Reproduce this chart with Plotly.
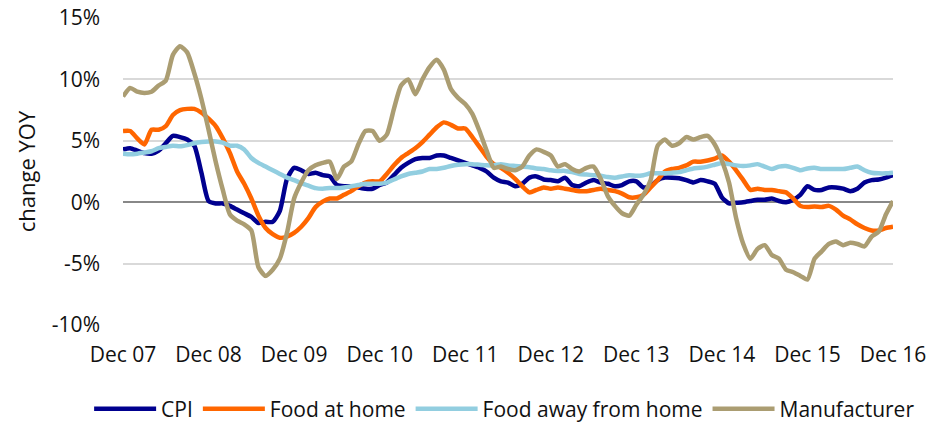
import plotly.graph_objects as go

# Monthly index: 0 = Dec 07 ... 108 = Dec 16
months = list(range(109))

tick_vals = [0, 12, 24, 36, 48, 60, 72, 84, 96, 108]
tick_text = ["Dec 07", "Dec 08", "Dec 09", "Dec 10", "Dec 11",
             "Dec 12", "Dec 13", "Dec 14", "Dec 15", "Dec 16"]

y_tick_vals = [-0.10, -0.05, 0.0, 0.05, 0.10, 0.15]
y_tick_text = ["-10%", "-5%", "0%", "5%", "10%", "15%"]

cpi = [4.3, 4.4, 4.2, 4.0, 3.95, 4.2, 4.8, 5.4, 5.3, 5.1, 4.6, 2.4, 0.1, -0.1, -0.1, -0.3, -0.6, -0.9, -1.2, -1.7,
       -1.6, -1.6, -0.7, 1.9, 2.8, 2.6, 2.3, 2.4, 2.2, 2.1, 1.4, 1.3, 1.3, 1.2, 1.1, 1.1, 1.4, 1.6, 2.2, 2.8,
       3.2, 3.5, 3.6, 3.6, 3.8, 3.8, 3.6, 3.4, 3.2, 3.0, 2.8, 2.5, 2.0, 1.7, 1.6, 1.3, 1.5, 2.0, 2.1, 1.85,
       1.8, 1.7, 2.0, 1.4, 1.3, 1.6, 1.8, 1.6, 1.5, 1.3, 1.4, 1.7, 1.7, 1.2, 1.3, 1.8, 2.0, 2.0, 1.95, 1.8,
       1.6, 1.8, 1.7, 1.5, 0.4, -0.1, -0.05, 0.0, 0.1, 0.2, 0.2, 0.3, 0.1, 0.0, 0.2, 0.6, 1.3, 1.0, 1.0, 1.2,
       1.2, 1.1, 0.9, 1.1, 1.6, 1.8, 1.85, 2.0, 2.2]

food_home = [5.8, 5.8, 5.2, 4.7, 5.9, 5.9, 6.2, 7.1, 7.5, 7.6, 7.6, 7.3, 6.8, 6.2, 5.2, 4.0, 2.5, 1.5, 0.3, -1.1,
             -2.1, -2.6, -2.9, -2.8, -2.5, -2.0, -1.3, -0.4, 0.05, 0.3, 0.3, 0.6, 0.9, 1.3, 1.6, 1.7, 1.7, 2.3, 3.0, 3.6,
             4.0, 4.4, 4.9, 5.5, 6.1, 6.5, 6.3, 6.0, 6.0, 5.3, 4.5, 3.7, 3.1, 2.8, 2.4, 1.9, 1.3, 0.8, 1.0, 1.2,
             1.1, 1.2, 1.1, 1.0, 0.9, 0.9, 1.0, 1.1, 1.0, 0.9, 0.7, 0.4, 0.4, 0.6, 1.2, 1.8, 2.5, 2.7, 2.8, 3.0,
             3.3, 3.3, 3.4, 3.55, 3.8, 3.3, 2.6, 1.8, 1.0, 1.1, 1.0, 1.0, 0.9, 0.8, 0.3, -0.3, -0.4, -0.35, -0.4, -0.3,
             -0.6, -1.1, -1.4, -1.8, -2.1, -2.3, -2.3, -2.1, -2.0]

food_away = [3.95, 3.9, 3.95, 4.05, 4.15, 4.4, 4.5, 4.6, 4.55, 4.65, 4.8, 4.9, 4.95, 4.95, 4.85, 4.6, 4.6, 4.3, 3.6, 3.2,
             2.9, 2.6, 2.3, 2.0, 1.8, 1.55, 1.35, 1.15, 1.1, 1.15, 1.15, 1.2, 1.3, 1.4, 1.5, 1.5, 1.5, 1.6, 1.85, 2.1,
             2.3, 2.4, 2.5, 2.7, 2.7, 2.8, 2.95, 3.05, 3.1, 3.1, 3.05, 3.0, 3.0, 3.1, 3.0, 2.95, 2.9, 2.85, 2.75, 2.7,
             2.6, 2.55, 2.55, 2.45, 2.3, 2.25, 2.2, 2.15, 2.05, 2.0, 2.1, 2.2, 2.15, 2.2, 2.35, 2.35, 2.35, 2.4, 2.45, 2.6,
             2.75, 2.8, 2.9, 3.05, 3.2, 3.1, 3.0, 2.95, 3.0, 3.1, 2.9, 2.7, 2.9, 2.95, 2.8, 2.6, 2.75, 2.8, 2.7, 2.7,
             2.7, 2.7, 2.8, 2.9, 2.6, 2.4, 2.35, 2.35, 2.4]

manufacturer = [8.6, 9.3, 9.0, 8.9, 9.0, 9.5, 9.9, 12.0, 12.7, 12.2, 10.5, 8.4, 5.9, 3.3, 1.0, -1.0, -1.5, -1.8, -2.3, -5.3,
                -6.0, -5.5, -4.6, -2.5, 0.3, 1.6, 2.6, 3.0, 3.2, 3.3, 1.9, 2.9, 3.3, 4.7, 5.8, 5.8, 5.0, 5.5, 7.6, 9.5,
                10.0, 8.8, 10.0, 11.0, 11.6, 10.8, 9.2, 8.5, 8.0, 7.2, 5.8, 4.2, 2.8, 2.9, 2.7, 2.6, 2.9, 3.8, 4.3, 4.1,
                3.8, 2.9, 3.1, 2.7, 2.5, 2.8, 2.9, 1.9, 0.5, -0.3, -0.9, -1.1, -0.2, 0.6, 1.8, 4.6, 5.1, 4.6, 4.8, 5.3,
                5.1, 5.3, 5.4, 4.7, 3.4, 1.6, -1.3, -3.4, -4.6, -3.8, -3.5, -4.3, -4.6, -5.5, -5.7, -6.0, -6.3, -4.6, -4.0, -3.4,
                -3.2, -3.5, -3.3, -3.4, -3.6, -2.8, -2.4, -1.0, 0.1]

series = [
    ("CPI", cpi, "#00008F"),
    ("Food at home", food_home, "#FF6600"),
    ("Food away from home", food_away, "#92CEE0"),
    ("Manufacturer", manufacturer, "#AB9D72"),
]

FONT = "Open Sans"

fig = go.Figure()
for name, vals, color in series:
    fig.add_trace(go.Scatter(
        x=months, y=[v / 100 for v in vals], name=name, mode="lines",
        line=dict(color=color, width=4.5, shape="spline", smoothing=0.6),
    ))

fig.update_layout(
    width=942, height=422,
    margin=dict(l=123, r=49, t=18, b=97, autoexpand=False),
    paper_bgcolor="white", plot_bgcolor="white",
    font=dict(family=FONT, size=21, color="#111111"),
    showlegend=True,
    legend=dict(orientation="h", x=-0.044, xanchor="left", y=-0.274, yanchor="middle",
                font=dict(size=21), itemwidth=62, tracegroupgap=0, traceorder="normal"),
    xaxis=dict(range=[0, 108], tickvals=tick_vals, ticktext=tick_text, showgrid=False,
               zeroline=False, showline=False, ticks="", ticklabelstandoff=15,
               tickfont=dict(size=21), automargin=False),
    yaxis=dict(range=[-0.10, 0.15], tickvals=y_tick_vals, ticktext=y_tick_text, showgrid=True,
               gridcolor="#D9D9D9", gridwidth=1.5, zeroline=True, zerolinecolor="#888888",
               zerolinewidth=1.5, showline=False, ticks="", ticklabelstandoff=22,
               tickfont=dict(size=21), automargin=False,
               title=dict(text="change YOY", font=dict(size=22), standoff=10)),
)

fig.write_html("out.html", config={"displayModeBar": False},
               post_script="document.body.style.margin='0';")
